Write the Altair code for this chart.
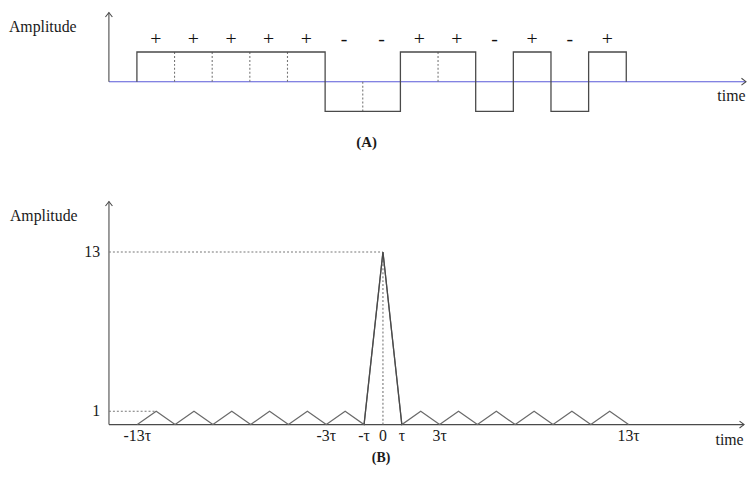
import altair as alt
import pandas as pd

# ---------------- data ----------------
CHIPS = [1, 1, 1, 1, 1, -1, -1, 1, 1, -1, 1, -1, 1]          # Barker-13 code
SIGNS = ["+" if c > 0 else "-" for c in CHIPS]
LAGS = list(range(-13, 14))
ACF = [0, 1, 0, 1, 0, 1, 0, 1, 0, 1, 0, 1, 0, 13, 0, 1, 0, 1, 0, 1, 0, 1, 0, 1, 0, 1, 0]
TICK_POS = [-13, -3, -1, 0, 1, 3, 13]
TICK_TXT = ["-13τ", "-3τ", "-τ", "0", "τ", "3τ", "13τ"]
Y_TICKS = [1, 13]

# ---------------- layout ----------------
W, H = 748, 460
TOP_X0, TOP_XU = 130.3, 38.05   # pixel of chip 0, pixels per chip
TOP_Y0, TOP_YU = 72.0, 30.0     # pixel of amplitude 0, pixels per unit
BOT_X0, BOT_XU = 379.0, 19.1    # pixel of lag 0, pixels per tau
BOT_Y0, BOT_YU = 418.6, 13.42

def xdom(x0, u):
    return [(0 - x0) / u, (W - x0) / u]

def ydom(y0, u):
    return [(y0 - H) / u, y0 / u]

XT = alt.Scale(domain=xdom(TOP_X0, TOP_XU), nice=False, zero=False)
YT = alt.Scale(domain=ydom(TOP_Y0, TOP_YU), nice=False, zero=False)
XB = alt.Scale(domain=xdom(BOT_X0, BOT_XU), nice=False, zero=False)
YB = alt.Scale(domain=ydom(BOT_Y0, BOT_YU), nice=False, zero=False)

FONT = "Liberation Serif"
LINE = "#4a4a4a"
SIDE = "#6a6a6a"
DOT = "#777777"
BLUE = "#5a5ad8"
TXT = "#1a1a1a"


def X(f, s):
    return alt.X(f, type="quantitative", scale=s, axis=None)


def Y(f, s):
    return alt.Y(f, type="quantitative", scale=s, axis=None)


# ---------------- top panel (A) ----------------
T_AXIS_X, T_AXIS_TOP, T_BASE_END = -0.744, 2.33, 16.18
SIGN_Y = 1.45

pulse = pd.DataFrame({
    "i": list(range(len(CHIPS) + 2)),
    "k": [0] + list(range(len(CHIPS))) + [len(CHIPS)],
    "v": [0] + CHIPS + [0],
})
dots_top = pd.DataFrame([
    {"k": k, "y0": 0, "v": CHIPS[k]} for k in range(1, len(CHIPS)) if CHIPS[k] == CHIPS[k - 1]
])
signs = pd.DataFrame({"k": [k + 0.5 for k in range(len(CHIPS))],
                      "y": [SIGN_Y] * len(CHIPS), "s": SIGNS})

t_base = alt.Chart(pd.DataFrame({"x": [T_AXIS_X], "x2": [T_BASE_END], "y": [0]})).mark_rule(
    color=BLUE, strokeWidth=1.1).encode(x=X("x", XT), x2="x2:Q", y=Y("y", YT))
t_yaxis = alt.Chart(pd.DataFrame({"x": [T_AXIS_X], "y": [0], "y2": [T_AXIS_TOP]})).mark_rule(
    color=LINE, strokeWidth=1.1).encode(x=X("x", XT), y=Y("y", YT), y2="y2:Q")
t_arrow_up = alt.Chart(pd.DataFrame({"x": [T_AXIS_X], "y": [T_AXIS_TOP]})).mark_point(
    shape="M-1,1.3L0,0L1,1.3", size=49, filled=False, color=LINE, strokeWidth=1.1, opacity=1
).encode(x=X("x", XT), y=Y("y", YT))
t_arrow_right = alt.Chart(pd.DataFrame({"x": [T_BASE_END], "y": [0]})).mark_point(
    shape="M-1.3,-1L0,0L-1.3,1", size=49, filled=False, color=LINE, strokeWidth=1.1, opacity=1
).encode(x=X("x", XT), y=Y("y", YT))
t_pulse = alt.Chart(pulse).mark_line(interpolate="step-after", color=LINE, strokeWidth=1.3).encode(
    x=X("k", XT), y=Y("v", YT), order="i:Q")
t_dots = alt.Chart(dots_top).mark_rule(color=DOT, strokeDash=[2, 2], strokeWidth=1.1).encode(
    x=X("k", XT), y=Y("y0", YT), y2="v:Q")
t_signs = alt.Chart(signs).mark_text(font=FONT, fontSize=20, color="#111111").encode(
    x=X("k", XT), y=Y("y", YT), text="s:N")
t_labels = alt.Chart(pd.DataFrame({
    "x": [-3.40, 15.42], "y": [1.83, -0.5], "t": ["Amplitude", "time"]})).mark_text(
    font=FONT, fontSize=16, color=TXT, align="left", baseline="middle").encode(
    x=X("x", XT), y=Y("y", YT), text="t:N")
t_title = alt.Chart(pd.DataFrame({"x": [6.1], "y": [-2.03], "t": ["(A)"]})).mark_text(
    font=FONT, fontSize=15, fontWeight="bold", color=TXT).encode(
    x=X("x", XT), y=Y("y", YT), text="t:N")

top = alt.layer(t_base, t_yaxis, t_arrow_up, t_arrow_right, t_dots, t_pulse,
                t_signs, t_labels, t_title)

# ---------------- bottom panel (B) ----------------
B_AXIS_X, B_AXIS_TOP, B_BASE_END = -14.5, 16.8, 19.11
XT_LABEL_Y, YT_LABEL_X = -0.86, -14.97

acf = pd.DataFrame({"lag": LAGS, "r": ACF})
b_base = alt.Chart(pd.DataFrame({"x": [B_AXIS_X], "x2": [B_BASE_END], "y": [0]})).mark_rule(
    color=LINE, strokeWidth=1.1).encode(x=X("x", XB), x2="x2:Q", y=Y("y", YB))
b_yaxis = alt.Chart(pd.DataFrame({"x": [B_AXIS_X], "y": [0], "y2": [B_AXIS_TOP]})).mark_rule(
    color=LINE, strokeWidth=1.1).encode(x=X("x", XB), y=Y("y", YB), y2="y2:Q")
b_arrow_up = alt.Chart(pd.DataFrame({"x": [B_AXIS_X], "y": [B_AXIS_TOP]})).mark_point(
    shape="M-1,1.3L0,0L1,1.3", size=49, filled=False, color=LINE, strokeWidth=1.1, opacity=1
).encode(x=X("x", XB), y=Y("y", YB))
b_arrow_right = alt.Chart(pd.DataFrame({"x": [B_BASE_END], "y": [0]})).mark_point(
    shape="M-1.3,-1L0,0L-1.3,1", size=49, filled=False, color=LINE, strokeWidth=1.1, opacity=1
).encode(x=X("x", XB), y=Y("y", YB))
b_hdots = alt.Chart(pd.DataFrame({
    "x": [B_AXIS_X, B_AXIS_X], "x2": [0, -12], "y": [13, 1]})).mark_rule(
    color=DOT, strokeDash=[2, 2], strokeWidth=1.1).encode(x=X("x", XB), x2="x2:Q", y=Y("y", YB))
b_vdots = alt.Chart(pd.DataFrame({"x": [0], "y": [0], "y2": [13]})).mark_rule(
    color=DOT, strokeDash=[2, 2], strokeWidth=1.1).encode(x=X("x", XB), y=Y("y", YB), y2="y2:Q")
b_line = alt.Chart(acf).mark_line(color=SIDE, strokeWidth=1.2).encode(
    x=X("lag", XB), y=Y("r", YB), order="lag:Q")
b_peak = alt.Chart(acf[acf["lag"].abs() <= 1]).mark_line(color=LINE, strokeWidth=1.3).encode(
    x=X("lag", XB), y=Y("r", YB), order="lag:Q")
b_xticks = alt.Chart(pd.DataFrame({"x": TICK_POS, "y": [XT_LABEL_Y] * len(TICK_POS),
                                   "t": TICK_TXT})).mark_text(
    font=FONT, fontSize=16, color=TXT, baseline="middle").encode(
    x=X("x", XB), y=Y("y", YB), text="t:N")
b_yticks = alt.Chart(pd.DataFrame({"x": [YT_LABEL_X] * len(Y_TICKS), "y": Y_TICKS,
                                   "t": [str(v) for v in Y_TICKS]})).mark_text(
    font=FONT, fontSize=16, color=TXT, align="right", baseline="middle").encode(
    x=X("x", XB), y=Y("y", YB), text="t:N")
b_labels = alt.Chart(pd.DataFrame({
    "x": [-19.74, 17.6], "y": [15.68, -1.16], "t": ["Amplitude", "time"]})).mark_text(
    font=FONT, fontSize=16, color=TXT, align="left", baseline="middle").encode(
    x=X("x", XB), y=Y("y", YB), text="t:N")
b_title = alt.Chart(pd.DataFrame({"x": [-0.1], "y": [-2.55], "t": ["(B)"]})).mark_text(
    font=FONT, fontSize=14, fontWeight="bold", color=TXT).encode(
    x=X("x", XB), y=Y("y", YB), text="t:N")

bottom = alt.layer(b_base, b_yaxis, b_arrow_up, b_arrow_right, b_hdots, b_vdots, b_line,
                   b_peak, b_xticks, b_yticks, b_labels, b_title)

chart = alt.layer(top, bottom).resolve_scale(x="independent", y="independent").properties(
    width=W, height=H, padding=0, autosize=alt.AutoSizeParams(type="none"),
    background="white"
).configure_view(stroke=None)

chart.save("out.html", embed_options={"renderer": "svg", "actions": False})
